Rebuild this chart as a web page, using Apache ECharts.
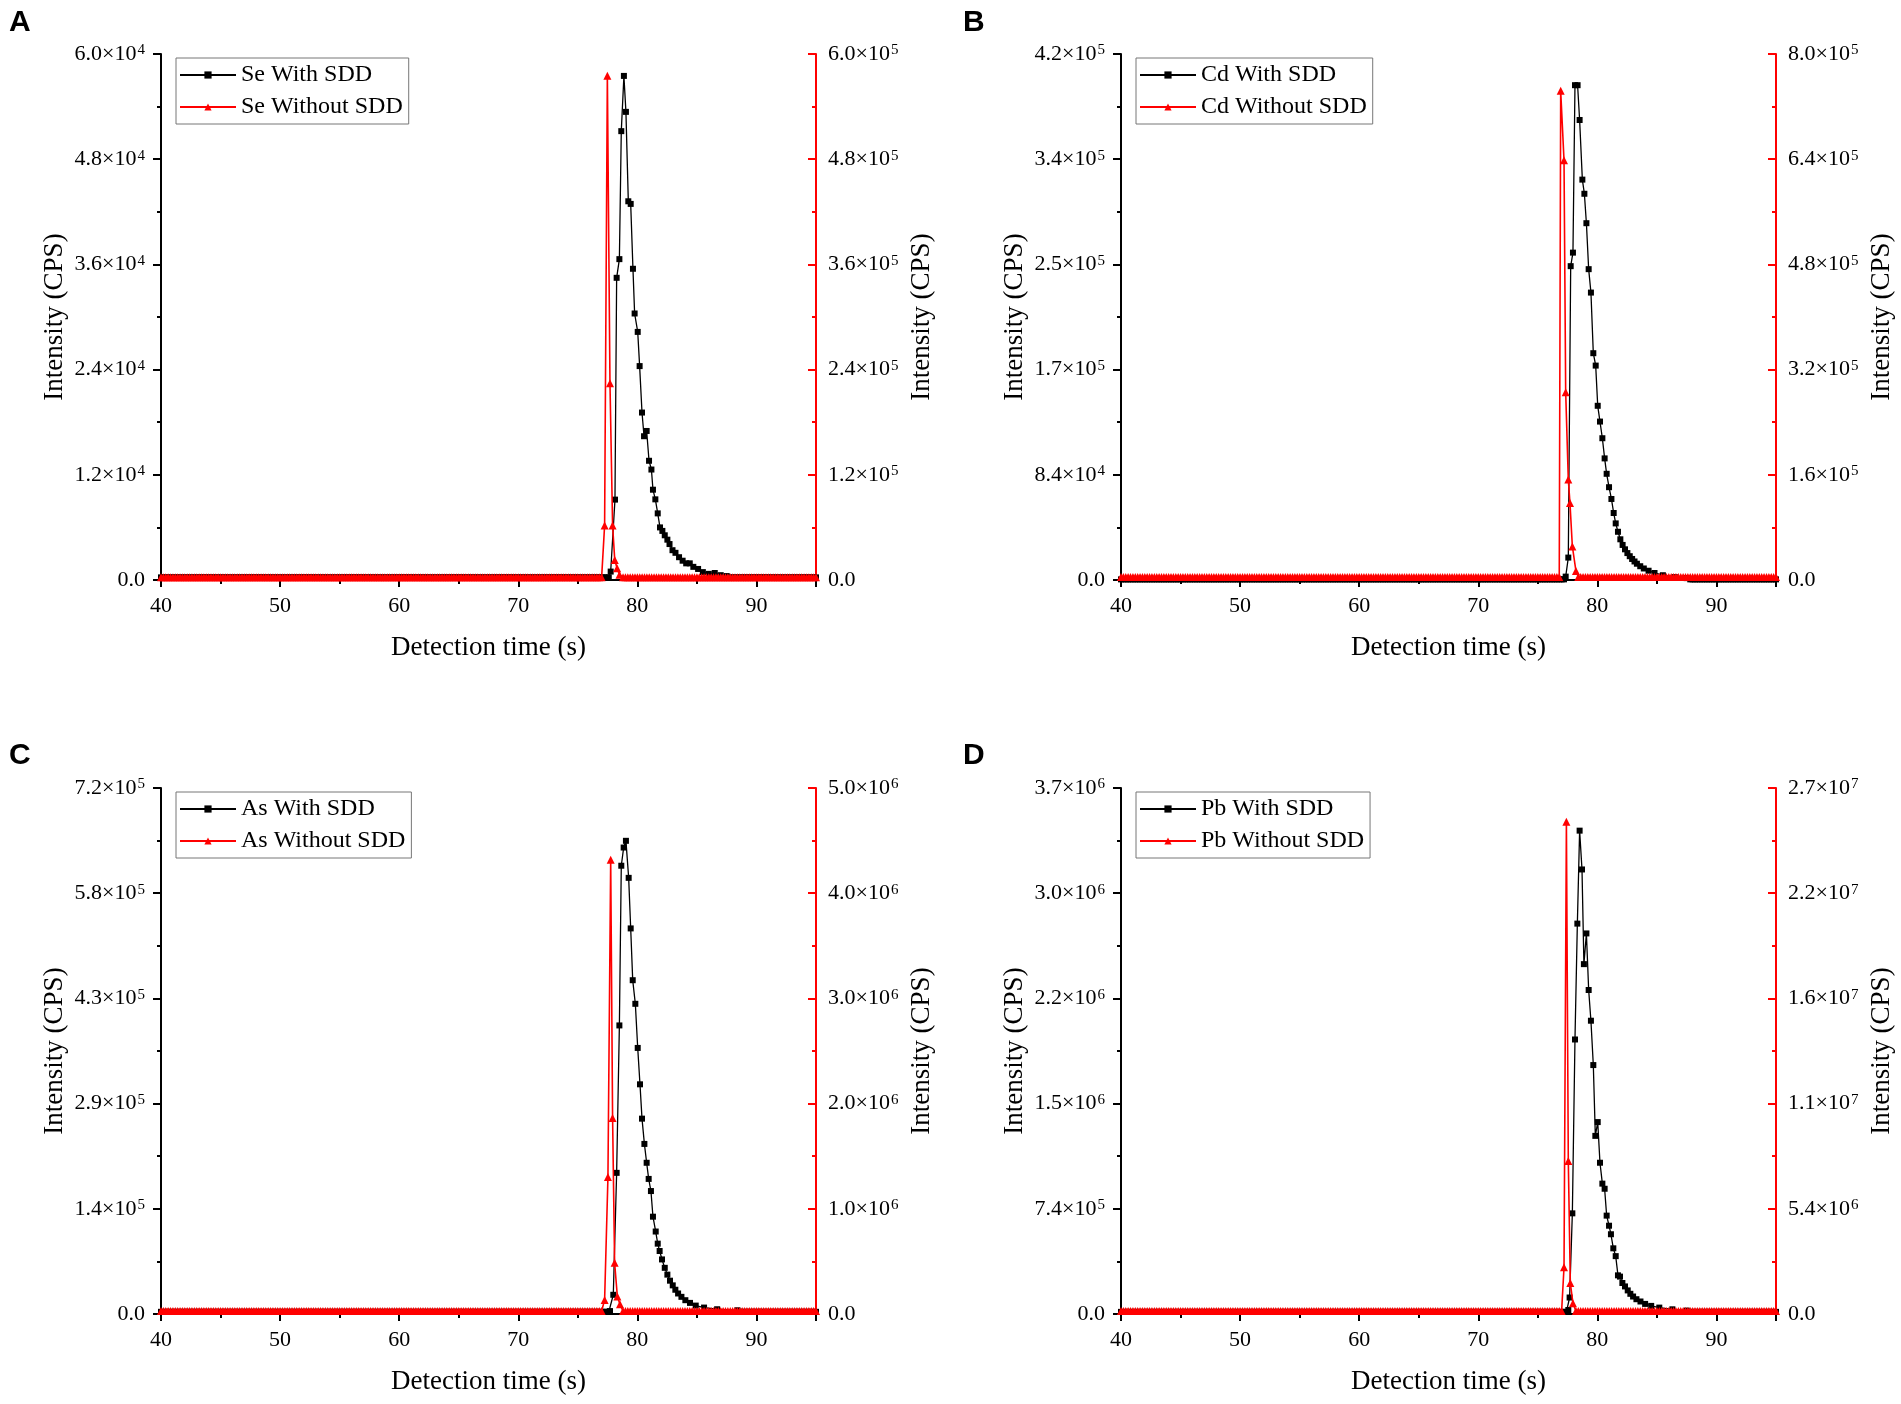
<!DOCTYPE html>
<html><head><meta charset="utf-8">
<script src="https://cdn.jsdelivr.net/npm/echarts@6/dist/echarts.min.js"></script>
<style>html,body{margin:0;padding:0;background:#fff}#c{width:1901px;height:1404px}</style>
</head><body><div id="c"></div>
<script>
// ---- sampling grid / x axis ----
const timeMin = 40, timeMax = 95, sampleStep = 0.2;
const xTickLabels = ['40', '50', '60', '70', '80', '90'];

// ---- series names ----
const namesA = ['Se With SDD', 'Se Without SDD'];
const namesB = ['Cd With SDD', 'Cd Without SDD'];
const namesC = ['As With SDD', 'As Without SDD'];
const namesD = ['Pb With SDD', 'Pb Without SDD'];

// ---- baseline levels ----
const baseA = [300, 3000];
const baseB = [500, 4500];
const baseC = [3000, 28000];
const baseD = [15000, 150000];

// ---- peak values [time s, CPS] ----
const seWith = [[77.76,960],[78.12,9170],[78.26,34470],[78.49,36600],[78.65,51200],[78.87,57500],[79.04,53400],[79.24,43200],[79.44,42900],[79.63,35500],[79.77,30400],[80.03,28300],[80.19,24400],[80.39,19100],[80.56,16400],[80.78,17000],[80.98,13600],[81.18,12600],[81.31,10300],[81.51,9200],[81.71,7600],[81.9,6000],[82.1,5600],[82.3,5100],[82.52,4600],[82.7,4100],[82.95,3400],[83.2,3100],[83.5,2600],[83.8,2200],[84.1,1900],[84.4,1900],[84.7,1500],[85.1,1260],[85.5,900],[86.0,700],[86.5,800],[87.0,550],[87.5,450]];
const seWithout = [[77.25,62300],[77.48,575200],[77.7,224300],[77.92,62300],[78.1,22900],[78.3,13400],[78.5,6000]];

const cdWith = [[77.34,2700],[77.56,17900],[77.76,250600],[77.95,261400],[78.12,395100],[78.34,395100],[78.51,367300],[78.74,319700],[78.91,308400],[79.08,284900],[79.27,248200],[79.46,229500],[79.66,181100],[79.86,171200],[80.03,139100],[80.22,126500],[80.42,113200],[80.61,97100],[80.78,84800],[80.98,74100],[81.18,64700],[81.37,53500],[81.54,45200],[81.73,38500],[81.93,32500],[82.12,28000],[82.32,24500],[82.52,21500],[82.72,19000],[82.92,16800],[83.12,14800],[83.32,13000],[83.6,11000],[83.9,9200],[84.3,7400],[84.8,5600],[85.5,3800],[86.5,2300],[87.5,1500]];
const cdWithout = [[76.92,744000],[77.2,638500],[77.34,285400],[77.56,152900],[77.7,117200],[77.9,51000],[78.2,13800]];

const asWith = [[77.7,4000],[77.98,26300],[78.26,193200],[78.49,395000],[78.65,613600],[78.85,638500],[79.04,647700],[79.27,597000],[79.44,527800],[79.61,456900],[79.83,424600],[80.03,364200],[80.22,314400],[80.39,267400],[80.59,232800],[80.78,207000],[80.95,184900],[81.14,168300],[81.31,133200],[81.54,112900],[81.71,96300],[81.87,86200],[82.07,74700],[82.3,63200],[82.52,53900],[82.74,45600],[82.97,39200],[83.19,33200],[83.42,28100],[83.7,23500],[84.03,18900],[84.42,15200],[84.9,11500],[85.6,8800],[86.7,6500],[88.4,5100]];
const asWithout = [[77.25,134000],[77.53,1303000],[77.76,4318000],[77.92,1863000],[78.09,487000],[78.32,166000],[78.54,93000]];

const pbWith = [[77.56,28000],[77.67,116000],[77.9,708000],[78.12,1931000],[78.32,2746000],[78.51,3400000],[78.71,3127000],[78.87,2461000],[79.08,2677000],[79.27,2279000],[79.46,2063000],[79.66,1751000],[79.83,1253000],[80.03,1350000],[80.22,1064000],[80.42,917000],[80.61,881000],[80.78,692000],[80.98,621000],[81.14,561000],[81.34,462000],[81.54,407000],[81.73,272000],[81.9,263000],[82.1,218000],[82.32,194000],[82.55,166000],[82.77,142000],[83.0,123000],[83.28,104000],[83.62,88000],[84.01,71000],[84.52,57000],[85.2,45000],[86.3,33000],[87.5,24000]];
const pbWithout = [[77.2,2403000],[77.4,25272000],[77.56,7848000],[77.73,1590000],[77.95,553000]];

// ---- tick labels (mantissa e exponent) ----
const leftTicksA  = ['0.0','1.2e4','2.4e4','3.6e4','4.8e4','6.0e4'];
const rightTicksA = ['0.0','1.2e5','2.4e5','3.6e5','4.8e5','6.0e5'];
const leftTicksB  = ['0.0','8.4e4','1.7e5','2.5e5','3.4e5','4.2e5'];
const rightTicksB = ['0.0','1.6e5','3.2e5','4.8e5','6.4e5','8.0e5'];
const leftTicksC  = ['0.0','1.4e5','2.9e5','4.3e5','5.8e5','7.2e5'];
const rightTicksC = ['0.0','1.0e6','2.0e6','3.0e6','4.0e6','5.0e6'];
const leftTicksD  = ['0.0','7.4e5','1.5e6','2.2e6','3.0e6','3.7e6'];
const rightTicksD = ['0.0','5.4e6','1.1e7','1.6e7','2.2e7','2.7e7'];

// ---- axis maxima ----
const leftMax  = [6e4, 4.2e5, 7.2e5, 3.7e6];
const rightMax = [6e5, 8e5, 5e6, 2.7e7];

const SERIF = "'Liberation Serif','Times New Roman',serif";
const RED = '#ff0000';

function buildData(peak, base) {
  const first = peak[0][0], last = peak[peak.length - 1][0];
  const pts = [];
  for (let i = 0; ; i++) {
    const t = timeMin + i * sampleStep;
    if (t > timeMax + 1e-9) break;
    if (t < first - sampleStep / 2 || t > last + sampleStep / 2) pts.push([+t.toFixed(2), base]);
  }
  return pts.concat(peak).sort((a, b) => a[0] - b[0]);
}

function richLabel(s) {
  if (!s) return '';
  const p = s.split('e');
  if (p.length === 1) return '{m|' + p[0] + '}';
  return '{m|' + p[0] + '×10}{s|' + p[1] + '}';
}
const richStyle = {
  m: { fontSize: 22, fontFamily: SERIF, color: '#000', lineHeight: 22 },
  s: { fontSize: 15, fontFamily: SERIF, color: '#000', verticalAlign: 'top', lineHeight: 15, padding: [0, 0, 0, 1] }
};

const panels = [
  { letter: 'A', names: namesA, base: baseA, with: seWith, without: seWithout, lt: leftTicksA, rt: rightTicksA, left: 161, top: 54, lx: 9, ly: 8 },
  { letter: 'B', names: namesB, base: baseB, with: cdWith, without: cdWithout, lt: leftTicksB, rt: rightTicksB, left: 1121, top: 54, lx: 963, ly: 8 },
  { letter: 'C', names: namesC, base: baseC, with: asWith, without: asWithout, lt: leftTicksC, rt: rightTicksC, left: 161, top: 788, lx: 9, ly: 741 },
  { letter: 'D', names: namesD, base: baseD, with: pbWith, without: pbWithout, lt: leftTicksD, rt: rightTicksD, left: 1121, top: 788, lx: 963, ly: 741 }
];

const grid = [], xAxis = [], yAxis = [], series = [], legend = [], graphic = [];
panels.forEach((p, k) => {
  grid.push({ left: p.left, top: p.top, width: 655, height: 526, containLabel: false });
  xAxis.push({
    type: 'value', gridIndex: k, min: timeMin, max: timeMax, interval: 10,
    name: 'Detection time (s)', nameLocation: 'middle', nameGap: 54,
    nameTextStyle: { fontSize: 27, fontFamily: SERIF, color: '#000' },
    axisLine: { onZero: false, lineStyle: { color: '#000', width: 2 } },
    axisTick: { length: 7, lineStyle: { color: '#000', width: 2 } },
    minorTick: { show: true, splitNumber: 2, length: 4, lineStyle: { color: '#000', width: 2 } },
    splitLine: { show: false },
    axisLabel: { margin: 15, fontSize: 22, fontFamily: SERIF, color: '#000',
      formatter: v => { const i = Math.round((v - timeMin) / 10); return (Math.abs(v - (timeMin + i * 10)) < 1e-6 && xTickLabels[i]) ? xTickLabels[i] : ''; } }
  });
  const li = leftMax[k] / (p.lt.length - 1);
  const ri = rightMax[k] / (p.rt.length - 1);
  yAxis.push({
    type: 'value', gridIndex: k, position: 'left', min: 0, max: leftMax[k], interval: li,
    name: 'Intensity (CPS)', nameLocation: 'middle', nameGap: 93, nameRotate: 90,
    nameTextStyle: { fontSize: 27, fontFamily: SERIF, color: '#000' },
    axisLine: { show: true, lineStyle: { color: '#000', width: 2 } },
    axisTick: { show: true, length: 8, lineStyle: { color: '#000', width: 2 } },
    minorTick: { show: true, splitNumber: 2, length: 4, lineStyle: { color: '#000', width: 2 } },
    splitLine: { show: false },
    axisLabel: { margin: 16, rich: richStyle, formatter: v => richLabel(p.lt[Math.round(v / li)]) }
  });
  yAxis.push({
    type: 'value', gridIndex: k, position: 'right', min: 0, max: rightMax[k], interval: ri,
    name: 'Intensity (CPS)', nameLocation: 'middle', nameGap: 92, nameRotate: 90,
    nameTextStyle: { fontSize: 27, fontFamily: SERIF, color: '#000' },
    axisLine: { show: true, lineStyle: { color: RED, width: 2 } },
    axisTick: { show: true, inside: true, length: 8, lineStyle: { color: RED, width: 2 } },
    minorTick: { show: true, splitNumber: 2, length: 4, lineStyle: { color: RED, width: 2 } },
    splitLine: { show: false },
    axisLabel: { margin: 12, rich: richStyle, formatter: v => richLabel(p.rt[Math.round(v / ri)]) }
  });
  series.push({
    type: 'line', name: p.names[0], xAxisIndex: k, yAxisIndex: 2 * k,
    data: buildData(p.with, p.base[0]),
    symbol: 'rect', symbolSize: 6, showSymbol: true,
    itemStyle: { color: '#000' }, lineStyle: { color: '#000', width: 1.3 }, z: 2
  });
  series.push({
    type: 'line', name: p.names[1], xAxisIndex: k, yAxisIndex: 2 * k + 1,
    data: buildData(p.without, p.base[1]),
    symbol: 'triangle', symbolSize: 8, showSymbol: true,
    itemStyle: { color: RED }, lineStyle: { color: RED, width: 1.6 }, z: 3
  });
  legend.push({
    data: p.names, left: p.left + 15, top: p.top + 4, orient: 'vertical',
    backgroundColor: '#fff', borderColor: '#777', borderWidth: 1, padding: [5, 6, 5, 3],
    itemGap: 8, itemWidth: 56, itemHeight: 9, selectedMode: false,
    textStyle: { fontSize: 24, fontFamily: SERIF, color: '#000' }
  });
  graphic.push({ type: 'text', left: p.lx, top: p.ly,
    style: { text: p.letter, font: "bold 30px 'Liberation Sans', Arial, sans-serif", fill: '#000' } });
});

const chart = echarts.init(document.getElementById('c'), null, { renderer: 'canvas' });
chart.setOption({ animation: false, backgroundColor: '#fff', grid, xAxis, yAxis, series, legend, graphic });
</script></body></html>
